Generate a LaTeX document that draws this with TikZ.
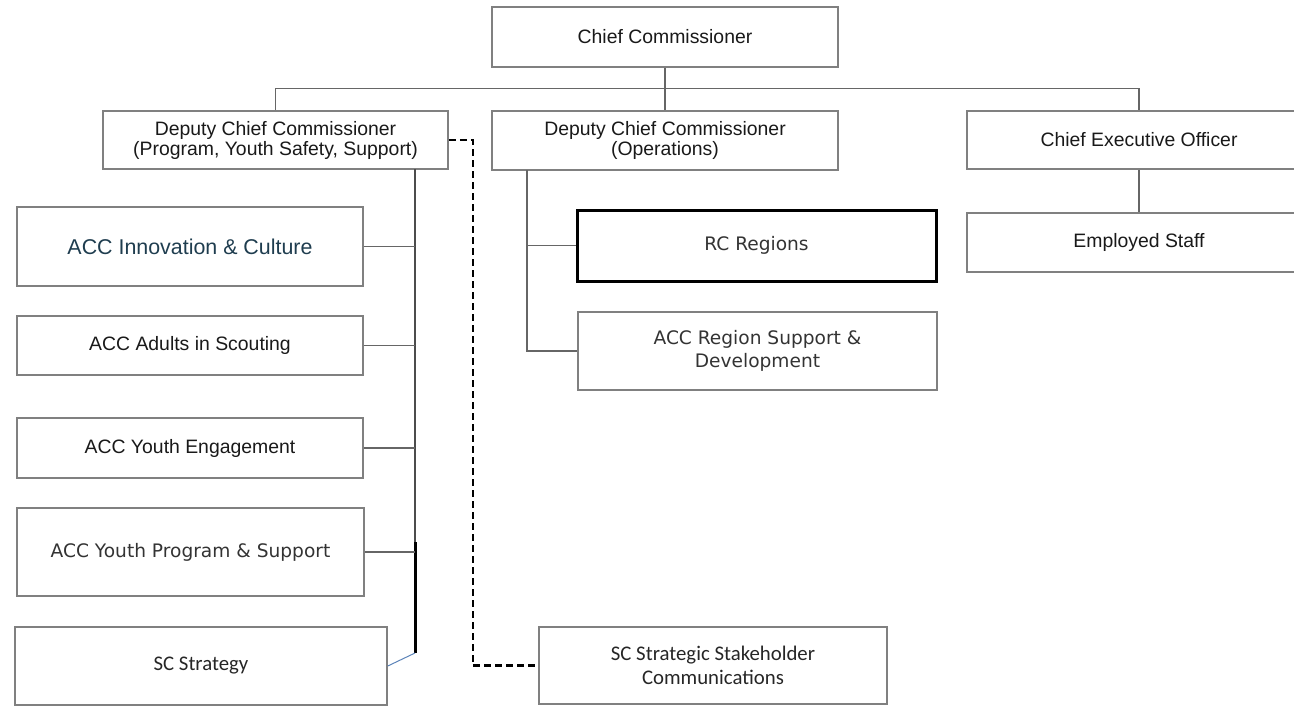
\documentclass[tikz,border=0pt]{standalone}
\usepackage{fontspec}
\setmainfont{Liberation Sans}
\newfontfamily\verdfont{DejaVu Sans}
\newfontfamily\calibfont{Carlito}
\definecolor{boxgray}{HTML}{808080}
\definecolor{linegray}{HTML}{666666}
\definecolor{tealtext}{HTML}{1F3D4F}
\definecolor{greytext}{HTML}{333333}
\definecolor{linkblue}{HTML}{5B83B8}
\tikzset{
    box/.style={rectangle, draw=boxgray, line width=0.8pt, inner sep=0pt, text centered, align=center, text=black!90},
    arialtxt/.style={font=\fontsize{9.7}{10}\selectfont},
    verdtxt/.style={font=\verdfont\fontsize{9.3}{11.5}\selectfont, text=greytext},
    calibtxt/.style={font=\calibfont\fontsize{10.4}{12}\selectfont, text=black!85},
    conn/.style={draw=linegray, line width=0.6pt},
}
\begin{document}
\begin{tikzpicture}[x=0.5pt, y=-0.5pt]
    \useasboundingbox (0,0) rectangle (1294,706);
    % top level
    \node (cc) [box, arialtxt, minimum width=173pt, minimum height=30pt] at (665,37) {Chief Commissioner};
    \node (dccp) [box, arialtxt, minimum width=172.5pt, minimum height=29pt] at (275.5,140) {Deputy Chief Commissioner\\(Program, Youth Safety, Support)};
    \node (dcco) [box, arialtxt, minimum width=173pt, minimum height=29.5pt] at (665,140.5) {Deputy Chief Commissioner\\(Operations)};
    \node (ceo) [box, arialtxt, minimum width=172pt, minimum height=29pt] at (1139,140) {Chief Executive Officer};
    \node (staff) [box, arialtxt, minimum width=172pt, minimum height=29.5pt] at (1139,242.5) {Employed Staff};
    % program side
    \node (innov) [box, font=\fontsize{10.7}{12}\selectfont, text=tealtext, minimum width=173pt, minimum height=39.5pt] at (190,246.5) {ACC Innovation \& Culture};
    \node (adults) [box, arialtxt, minimum width=173pt, minimum height=29.5pt] at (190,345.5) {ACC Adults in Scouting};
    \node (youtheng) [box, arialtxt, minimum width=173pt, minimum height=30pt] at (190,448) {ACC Youth Engagement};
    \node (youthprog) [box, verdtxt, minimum width=173.5pt, minimum height=44pt] at (190.5,552) {ACC Youth Program \& Support};
    \node (strategy) [box, calibtxt, minimum width=186pt, minimum height=39pt] at (201,666) {SC Strategy};
    % operations side
    \node (rc) [box, verdtxt, draw=black, line width=1.5pt, minimum width=179.5pt, minimum height=35.5pt] at (756.5,245.5) {RC Regions};
    \node (regsup) [box, verdtxt, minimum width=179.5pt, minimum height=39pt] at (757.5,351) {ACC Region Support \&\\Development};
    \node (sscomm) [box, calibtxt, minimum width=174pt, minimum height=38.5pt] at (713,665.5) {SC Strategic Stakeholder\\Communications};

    % reporting lines
    \draw[conn] (cc.south) -- (dcco.north);
    \draw[conn] (dccp.north) -- ++(0,-22) -| (ceo.north);
    \draw[conn] (ceo) -- (staff);

    \coordinate (spTop) at (415,169);
    \coordinate (spMid) at (415,542);
    \coordinate (spEnd) at (415,653);
    \draw[draw=black!70, line width=0.8pt] (spTop) -- (spMid);
    \draw[black, line width=1.5pt] (spMid) -- (spEnd);
    \draw[linkblue, line width=0.5pt] (spEnd) -- (strategy.east);
    \foreach \n in {innov,adults,youtheng,youthprog}
        \draw[conn] (\n.east) -- (\n.east -| spTop);

    \coordinate (opTop) at (527,170);
    \draw[conn] (opTop) |- (regsup.west);
    \draw[conn] (rc.west) -- (rc.west -| opTop);

    % dotted line report
    \draw[black, line width=1.3pt, dash pattern=on 3.5pt off 2pt] (dccp.east) -- ++(24,0) |- (sscomm.west);
\end{tikzpicture}
\end{document}
